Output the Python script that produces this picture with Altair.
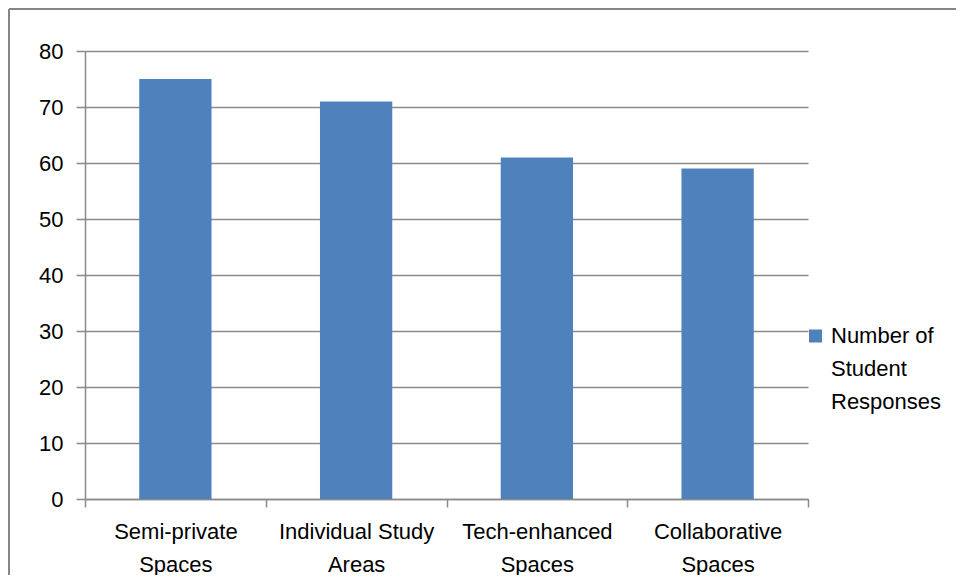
import altair as alt
import pandas as pd

# ---- data ----
categories = ["Semi-private Spaces", "Individual Study Areas", "Tech-enhanced Spaces", "Collaborative Spaces"]
values = [75, 71, 61, 59]
series_name = "Number of Student Responses"
legend_lines = ["Number of", "Student", "Responses"]
y_ticks = [0, 10, 20, 30, 40, 50, 60, 70, 80]

df = pd.DataFrame({"category": categories, "value": values})

FONT = "Liberation Sans"
GRID = "#8a8a8a"
BAR = "#4F81BD"

base = alt.Chart(df)

bars = base.mark_bar(width=alt.RelativeBandSize(0.4), color=BAR).encode(
    x=alt.X(
        "category:N",
        sort=categories,
        scale=alt.Scale(paddingInner=0, paddingOuter=0),
        axis=alt.Axis(
            title=None,
            labelAngle=0,
            tickBand="extent",
            grid=False,
            domainColor=GRID,
            domainWidth=1.5,
            tickColor=GRID,
            tickWidth=1.5,
            tickSize=8,
            labelPadding=14,
            labelFont=FONT,
            labelFontSize=22,
            labelColor="#000000",
            labelLineHeight=33,
            labelLimit=0,
            labelExpr="[slice(datum.label, 0, lastindexof(datum.label, ' ')), slice(datum.label, lastindexof(datum.label, ' ') + 1)]",
        ),
    ),
    y=alt.Y(
        "value:Q",
        scale=alt.Scale(domain=[0, 80], nice=False),
        axis=alt.Axis(
            title=None,
            values=y_ticks,
            grid=True,
            gridColor=GRID,
            gridWidth=1.5,
            domainColor=GRID,
            domainWidth=1.5,
            tickColor=GRID,
            tickWidth=1.5,
            tickSize=9,
            labelPadding=13,
            labelFont=FONT,
            labelFontSize=22,
            labelColor="#000000",
        ),
    ),
)

legend_df = pd.DataFrame({"series": [series_name]})
legend_sym = alt.Chart(legend_df).mark_square(size=169, color=BAR, opacity=1).encode(
    x=alt.value(730.5), y=alt.value(285)
)
legend_txt = alt.Chart(legend_df).mark_text(
    text=legend_lines, align="left", baseline="top", font=FONT, fontSize=22,
    lineHeight=33, color="#000000"
).encode(x=alt.value(746), y=alt.value(275))

border_top = alt.Chart(legend_df).mark_rule(color="#858585", strokeWidth=2).encode(
    x=alt.value(-76), x2=alt.value(880), y=alt.value(-42)
)
border_left = alt.Chart(legend_df).mark_rule(color="#858585", strokeWidth=2).encode(
    x=alt.value(-76), y=alt.value(-42), y2=alt.value(530)
)

chart = alt.layer(border_top, border_left, bars, legend_sym, legend_txt).properties(
    width=723,
    height=448,
    padding={"left": 77, "top": 43, "right": 148, "bottom": 76},
    autosize=alt.AutoSizeParams(type="none"),
).configure_view(stroke=None)

chart.save("out.html", embed_options={"renderer": "svg", "actions": False})
